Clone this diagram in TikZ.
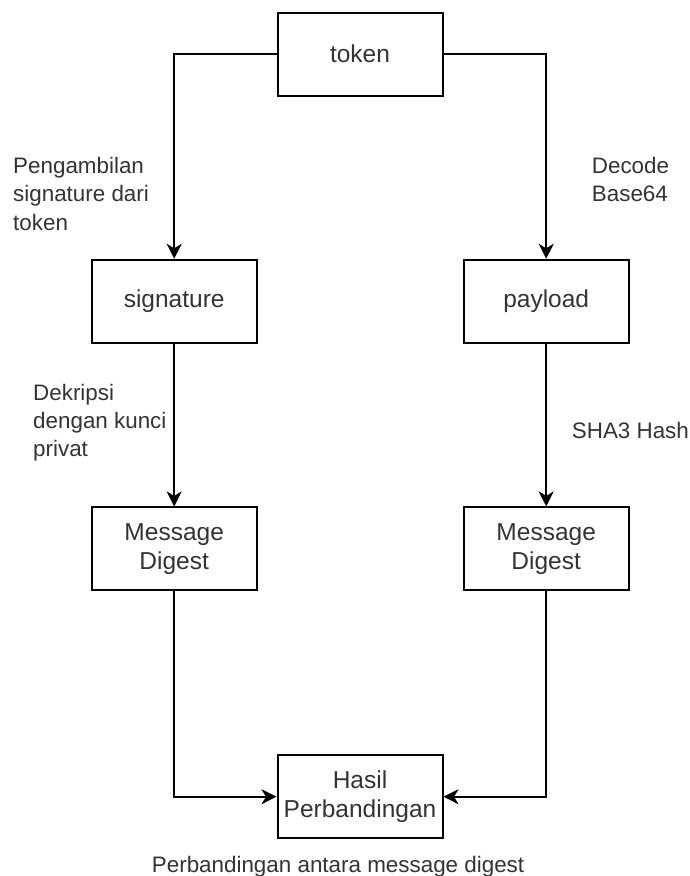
\documentclass[tikz,border=0pt]{standalone}
\usepackage{fontspec}
\setmainfont{Liberation Sans}
\usetikzlibrary{arrows.meta}

\begin{document}
\begin{tikzpicture}[x=1pt, y=-1pt]
%% sizes are in pixels of the reference, y grows downwards
%% boxes are 165 x 83, labels are left aligned, base at last line
\tikzstyle{arc}=[-{Stealth[length=15pt,width=15pt,inset=4.5pt]},line width=2pt]
\tikzstyle{box}=[draw,line width=2pt,minimum width=165pt,minimum height=83pt,align=center,text=black!80,font=\fontsize{24.5}{29.4}\selectfont]
\tikzstyle{steplabel}=[anchor=base west,align=left,inner sep=0pt,text=black!80,font=\fontsize{22.4}{28.4}\selectfont]
\useasboundingbox (0,0) rectangle (690,876);
%% TikZ-figure elements %%
\node[box] at (360,54.2) (token) {token};
\node[box] at (174.2,301.3) (signature) {signature};
\node[box] at (546.2,301.3) (payload) {payload};
\node[box] at (174.2,548.9) (digest_sig) {Message\\Digest};
\node[box] at (546.2,548.9) (digest_pay) {Message\\Digest};
\node[box] at (360,796.7) (result) {Hasil\\Perbandingan};
%% label for arc between token and signature
\node[steplabel] at (13,230) (take_label) {Pengambilan\\signature dari\\token};
%% label for arc between token and payload
\node[steplabel] at (591.7,201.5) (decode_label) {Decode\\Base64};
%% label for arc between signature and digest_sig
\node[steplabel] at (33,456.8) (decrypt_label) {Dekripsi\\dengan kunci\\privat};
%% label for arc between payload and digest_pay
\node[steplabel] at (571.7,438.3) (hash_label) {SHA3 Hash};
%% caption under the result
\node[steplabel] at (151.7,872) (compare_label) {Perbandingan antara message digest};
%% arcs
\draw[arc] (token.west) -| (signature.north);
\draw[arc] (token.east) -| (payload.north);
\draw[arc] (signature) -- (digest_sig);
\draw[arc] (payload) -- (digest_pay);
\draw[arc] (digest_sig.south) |- (result.west);
\draw[arc] (digest_pay.south) |- (result.east);
\end{tikzpicture}
\end{document}
